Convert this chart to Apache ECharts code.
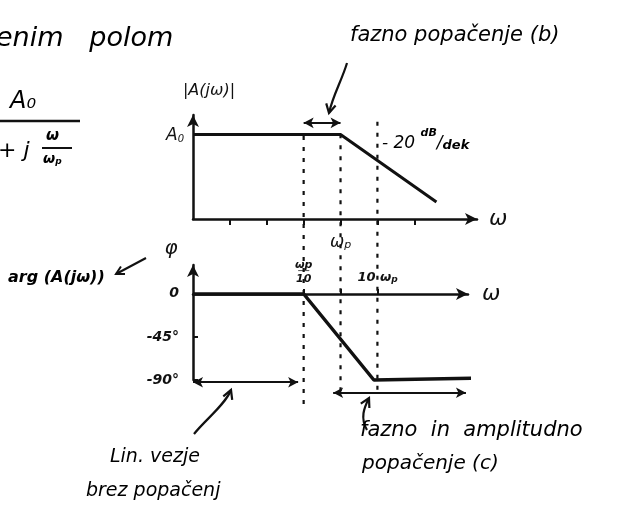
<!DOCTYPE html>
<html>
<head>
<meta charset="utf-8">
<script src="https://cdn.jsdelivr.net/npm/echarts@6/dist/echarts.min.js"></script>
<style>
  html, body { margin: 0; padding: 0; background: #fff; }
  #c { width: 635px; height: 513px; }
</style>
</head>
<body>
<div id="c"></div>
<script>
// Frequency is plotted in decades relative to the pole: log10(ω / ωp)
const magDecades = [-4, 0, 2.6];
const magDb = [0, 0, -52];            // asymptote: flat at A0, then -20 dB/dek

const phaseDecades = [-4, -1, 0.9, 3.65];
const phaseDeg = [0, 0, -90, -88];    // straight-line phase approximation

const magTicks = [-3, -2, -1, 0, 1, 2];
const phaseTicks = [-1, 0, 1];
const degTicks = [-90, -45, 0];
const degLabels = ['-90°', '-45°', '0'];

// dashed guides at ωp/10, ωp, 10ωp (extent given in degrees of the guide layer)
const guideDecades = [-1, 0, 1];
const guideTop = [165, 167, 180];
const guideBottom = [-115, -103, -106];

// span arrows
const spanB = { from: -1, to: 0, level: 9 };          // dB, magnitude grid
const spanLin = { from: -4, to: -1.15, level: -92 };  // degrees, guide layer
const spanC = { from: -0.2, to: 3.4, level: -103 };   // degrees, guide layer

const HAND = 'DejaVu Sans';
const INK = '#111';

const hand = (size, extra) => Object.assign({
  fontFamily: HAND, fontStyle: 'italic', fontSize: size, color: INK
}, extra || {});

const richSub = {
  b: hand(17, { verticalAlign: 'bottom', lineHeight: 20 }),
  s: hand(11, { verticalAlign: 'bottom', lineHeight: 16 })
};

const zip = (xs, ys) => xs.map((x, i) => [x, ys[i]]);

function spanLine(s) {
  return [{ coord: [s.from, s.level] }, { coord: [s.to, s.level] }];
}

function arrowHead(tx, ty, fx, fy, len) {
  const a = Math.atan2(ty - fy, tx - fx);
  const l = len || 10, w = 0.5;
  return [
    [tx - l * Math.cos(a - w), ty - l * Math.sin(a - w)],
    [tx, ty],
    [tx - l * Math.cos(a + w), ty - l * Math.sin(a + w)]
  ];
}

function callout(p0, c1, c2, p1) {
  return [
    { type: 'bezierCurve', shape: { x1: p0[0], y1: p0[1], cpx1: c1[0], cpy1: c1[1], cpx2: c2[0], cpy2: c2[1], x2: p1[0], y2: p1[1] },
      style: { stroke: INK, lineWidth: 2.2, fill: null } },
    { type: 'polyline', shape: { points: arrowHead(p1[0], p1[1], c2[0], c2[1], 10) },
      style: { stroke: INK, lineWidth: 2.2, fill: null } }
  ];
}

const arrowAxisLine = { onZero: false, lineStyle: { color: INK, width: 2.5 }, symbol: ['none', 'arrow'], symbolSize: [9, 12] };

const chart = echarts.init(document.getElementById('c'));

chart.setOption({
  backgroundColor: '#fff',
  animation: false,
  grid: [
    { left: 193, right: 158, top: 115, height: 104 },   // magnitude
    { left: 193, right: 167, top: 294, height: 86 },    // phase curve, ω axis along 0°
    { left: 193, right: 158, top: 115, bottom: 103 },   // guide layer
    { left: 193, right: 167, top: 265, height: 115 }    // phase scale
  ],
  xAxis: [
    {
      gridIndex: 0, type: 'value', min: -4, max: 3.7,
      axisLine: arrowAxisLine,
      axisTick: { customValues: magTicks, length: 6, lineStyle: { color: INK, width: 2 } },
      axisLabel: {
        customValues: [0], margin: 12,
        formatter: () => '{b|ω}{s|p}', rich: richSub
      },
      splitLine: { show: false },
      name: 'ω', nameGap: 12, nameTextStyle: hand(22)
    },
    {
      gridIndex: 1, type: 'value', min: -4, max: 3.45, position: 'top',
      axisLine: arrowAxisLine,
      axisTick: { customValues: phaseTicks, length: 5, lineStyle: { color: INK, width: 2 } },
      axisLabel: {
        customValues: [-1, 1], margin: 10,
        formatter: v => v < 0 ? '{t|ωp}\n{l|──}\n{t|10}' : '{n|10 ω}{s|p}',
        rich: {
          t: hand(11, { lineHeight: 10, fontWeight: 'bold' }),
          l: hand(9, { lineHeight: 4, fontWeight: 'bold' }),
          n: hand(13, { verticalAlign: 'bottom', lineHeight: 16, fontWeight: 'bold' }),
          s: hand(9, { verticalAlign: 'bottom', lineHeight: 13, fontWeight: 'bold' })
        }
      },
      splitLine: { show: false },
      name: 'ω', nameGap: 14, nameTextStyle: hand(22)
    },
    { gridIndex: 2, type: 'value', min: -4, max: 3.7, show: false, splitLine: { show: false } },
    { gridIndex: 3, type: 'value', min: -4, max: 3.45, show: false, splitLine: { show: false } }
  ],
  yAxis: [
    {
      gridIndex: 0, type: 'value', min: -65, max: 15,
      axisLine: arrowAxisLine,
      axisTick: { show: false },
      axisLabel: {
        customValues: [0], margin: 9,
        formatter: () => '{b|A}{s|0}',
        rich: { b: hand(17, { verticalAlign: 'bottom', lineHeight: 20 }), s: hand(10, { verticalAlign: 'bottom', lineHeight: 15 }) }
      },
      splitLine: { show: false },
      name: '|A(jω)|', nameGap: 16,
      nameTextStyle: hand(16, { padding: [0, 0, 0, 32] })
    },
    { gridIndex: 1, type: 'value', min: -90, max: 0, show: false, splitLine: { show: false } },
    { gridIndex: 2, type: 'value', min: -121, max: 187, show: false, splitLine: { show: false } },
    {
      gridIndex: 3, type: 'value', min: -90, max: 30,
      axisLine: arrowAxisLine,
      axisTick: { customValues: degTicks, length: 5, inside: true, lineStyle: { color: INK, width: 2 } },
      axisLabel: {
        customValues: degTicks, margin: 14,
        formatter: v => degLabels[degTicks.indexOf(v)],
        textStyle: hand(14, { fontWeight: 'bold' })
      },
      splitLine: { show: false },
      name: 'φ', nameGap: 6,
      nameTextStyle: hand(20, { padding: [0, 44, 0, 0] })
    }
  ],
  series: [
    {
      name: '|A(jω)|', type: 'line', xAxisIndex: 0, yAxisIndex: 0,
      data: zip(magDecades, magDb), symbol: 'none',
      lineStyle: { color: INK, width: 3 },
      markLine: {
        silent: true, symbol: ['arrow', 'arrow'], symbolSize: [8, 10],
        label: { show: false },
        lineStyle: { color: INK, width: 2.2, type: 'solid' },
        data: [spanLine(spanB)]
      }
    },
    {
      name: 'arg', type: 'line', xAxisIndex: 1, yAxisIndex: 1, clip: false,
      data: zip(phaseDecades, phaseDeg), symbol: 'none',
      lineStyle: { color: INK, width: 3.5 }
    },
    ...guideDecades.map((d, i) => ({
      type: 'line', xAxisIndex: 2, yAxisIndex: 2, symbol: 'none', silent: true,
      data: [[d, guideTop[i]], [d, guideBottom[i]]],
      lineStyle: { color: INK, width: 2.2, type: [4, 7] }
    })),
    {
      type: 'line', xAxisIndex: 2, yAxisIndex: 2, data: [], silent: true,
      markLine: {
        silent: true, symbol: ['arrow', 'arrow'], symbolSize: [8, 10],
        label: { show: false },
        lineStyle: { color: INK, width: 2.2, type: 'solid' },
        data: [spanLine(spanLin), spanLine(spanC)]
      }
    }
  ],
  graphic: [
    // heading fragment and the transfer function
    { type: 'text', left: -4, top: 25, style: Object.assign({ text: 'enim   polom' }, hand(27)) },
    { type: 'text', x: 10, y: 90, style: Object.assign({ text: 'A₀' }, hand(24)) },
    { type: 'line', shape: { x1: 0, y1: 121, x2: 80, y2: 121 }, style: { stroke: INK, lineWidth: 2.5 } },
    { type: 'text', x: -2, y: 140, style: Object.assign({ text: '+ j' }, hand(22)) },
    { type: 'text', x: 46, y: 129, style: Object.assign({ text: 'ω' }, hand(15, { fontWeight: 'bold' })) },
    { type: 'line', shape: { x1: 42, y1: 148, x2: 72, y2: 148 }, style: { stroke: INK, lineWidth: 2 } },
    { type: 'text', x: 43, y: 150, style: { text: '{b|ω}{s|p}', rich: { b: hand(14, { fontWeight: 'bold', verticalAlign: 'bottom', lineHeight: 16 }), s: hand(9, { fontWeight: 'bold', verticalAlign: 'bottom', lineHeight: 12 }) } } },

    // annotations
    { type: 'text', x: 350, y: 25, style: Object.assign({ text: 'fazno popačenje (b)' }, hand(21)) },
    ...callout([347, 63], [342, 80], [333, 95], [329, 113]),
    { type: 'text', x: 382, y: 128, style: {
        text: '{n|- 20 }{u|dB}{n2|/}{d|dek}',
        rich: {
          n: hand(17, { verticalAlign: 'bottom', lineHeight: 24 }),
          u: hand(11, { verticalAlign: 'top', lineHeight: 24, fontWeight: 'bold' }),
          n2: hand(17, { verticalAlign: 'bottom', lineHeight: 24 }),
          d: hand(13, { verticalAlign: 'bottom', lineHeight: 24, fontWeight: 'bold' })
        } } },

    { type: 'text', x: 8, y: 270, style: Object.assign({ text: 'arg (A(jω))' }, hand(16, { fontWeight: 'bold' })) },
    { type: 'line', shape: { x1: 146, y1: 258, x2: 116, y2: 274 }, style: { stroke: INK, lineWidth: 2 } },
    { type: 'polyline', shape: { points: arrowHead(116, 274, 146, 258, 9) }, style: { stroke: INK, lineWidth: 2, fill: null } },

    ...callout([194, 434], [205, 420], [225, 405], [231, 390]),
    { type: 'text', x: 110, y: 448, style: Object.assign({ text: 'Lin. vezje' }, hand(19)) },
    { type: 'text', x: 86, y: 482, style: Object.assign({ text: 'brez popačenj' }, hand(19)) },

    ...callout([367, 430], [360, 418], [364, 408], [369, 398]),
    { type: 'text', x: 360, y: 420, style: Object.assign({ text: 'fazno  in  amplitudno' }, hand(21)) },
    { type: 'text', x: 362, y: 454, style: Object.assign({ text: 'popačenje (c)' }, hand(20)) }
  ]
});
</script>
</body>
</html>
